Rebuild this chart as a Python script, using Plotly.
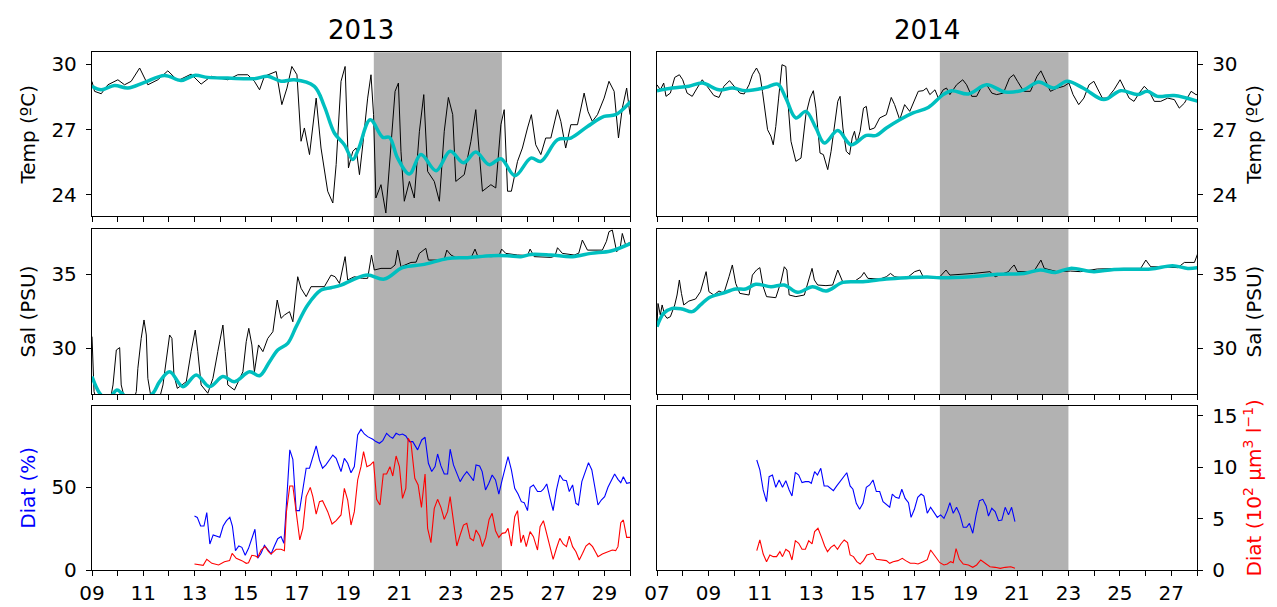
import plotly.graph_objects as go

# ---------------- DATA (day of month, value) ----------------
temp13_raw = [
    (9.00, 29.2), (9.10, 28.75), (9.36, 28.64), (9.62, 29.05), (10.01, 29.28), (10.27, 29.05),
    (10.53, 29.21), (10.86, 29.82), (11.18, 29.05), (11.57, 29.28), (11.96, 29.69), (12.35, 29.24),
    (12.87, 29.54), (13.26, 29.08), (13.65, 29.44), (14.30, 29.28), (14.69, 29.51), (15.08, 29.51),
    (15.34, 29.21), (15.54, 28.82), (15.73, 29.44), (16.19, 29.66), (16.41, 28.14), (16.61, 28.90),
    (16.80, 29.89), (17.00, 29.51), (17.16, 26.46), (17.29, 27.07), (17.49, 25.85), (17.75, 28.44),
    (17.94, 26.15), (18.20, 24.17), (18.40, 23.63), (18.53, 25.39), (18.72, 29.21), (18.88, 29.89),
    (19.01, 25.24), (19.18, 26.0), (19.31, 26.15), (19.44, 24.93), (19.57, 26.30), (19.76, 28.44),
    (19.89, 29.51), (19.99, 27.68), (20.08, 23.86), (20.28, 24.47), (20.47, 23.17), (20.67, 26.15),
    (20.83, 28.75), (20.96, 29.13), (21.06, 26.0), (21.19, 23.71), (21.39, 24.62), (21.58, 23.86),
    (21.78, 26.92), (21.95, 28.60), (22.10, 25.08), (22.36, 24.62), (22.56, 23.71), (22.75, 26.92),
    (22.91, 28.47), (23.08, 27.68), (23.20, 24.62), (23.53, 24.93), (23.79, 26.46), (23.98, 27.91),
    (24.11, 26.15), (24.24, 24.17), (24.57, 24.47), (24.76, 24.32), (24.96, 27.22), (25.09, 27.91),
    (25.22, 24.17), (25.37, 24.17), (25.61, 25.54), (25.80, 26.15), (26.00, 27.07), (26.15, 27.68),
    (26.32, 26.30), (26.52, 25.85), (26.71, 26.61), (26.91, 26.61), (27.17, 27.91), (27.30, 27.37),
    (27.49, 26.15), (27.69, 27.22), (27.95, 27.22), (28.21, 28.67), (28.36, 27.83), (28.53, 27.37),
    (28.73, 27.68), (28.99, 28.44), (29.18, 29.21), (29.38, 28.75), (29.55, 26.61), (29.70, 27.98),
    (29.87, 28.90), (30.00, 27.68),
]
temp13_smooth = [
    (9.00, 28.98), (9.36, 28.82), (9.88, 29.02), (10.40, 28.90), (11.05, 29.16), (11.83, 29.48),
    (12.48, 29.25), (13.00, 29.48), (13.52, 29.39), (14.30, 29.36), (15.34, 29.33), (15.86, 29.44),
    (16.38, 29.21), (16.90, 29.28), (17.68, 28.98), (18.07, 28.06), (18.46, 26.84), (18.85, 26.30),
    (19.18, 25.62), (19.40, 26.1), (19.86, 27.45), (20.35, 26.64), (20.61, 26.64), (20.93, 25.69),
    (21.39, 24.96), (21.84, 25.85), (22.43, 25.11), (22.98, 26.0), (23.50, 25.47), (23.98, 25.97),
    (24.50, 25.39), (24.96, 25.66), (25.51, 24.88), (26.13, 25.69), (26.52, 25.54), (27.17, 26.53),
    (27.69, 26.61), (28.34, 27.14), (28.99, 27.60), (29.44, 27.68), (30.03, 28.29),
]
temp14_raw = [
    (7.00, 29.05), (7.13, 28.82), (7.26, 29.13), (7.35, 28.52), (7.52, 28.67), (7.69, 29.39),
    (7.87, 29.51), (8.00, 29.28), (8.17, 28.67), (8.37, 28.52), (8.56, 28.90), (8.76, 29.28),
    (8.95, 28.98), (9.21, 28.56), (9.41, 28.47), (9.60, 28.98), (9.82, 29.24), (9.99, 28.98),
    (10.22, 28.67), (10.39, 28.63), (10.58, 29.05), (10.71, 29.51), (10.87, 29.82), (11.00, 29.51),
    (11.10, 28.75), (11.30, 26.99), (11.43, 26.69), (11.52, 26.30), (11.62, 27.14), (11.73, 28.44),
    (11.86, 29.97), (12.01, 29.89), (12.08, 28.44), (12.21, 26.46), (12.40, 25.54), (12.60, 25.69),
    (12.79, 27.68), (12.95, 28.44), (13.08, 28.78), (13.18, 27.98), (13.34, 25.92), (13.47, 25.85),
    (13.57, 25.47), (13.64, 25.16), (13.77, 26.0), (13.90, 27.22), (14.03, 28.29), (14.12, 28.52),
    (14.23, 27.07), (14.36, 26.0), (14.49, 25.85), (14.59, 26.61), (14.68, 26.92), (14.77, 26.38),
    (14.90, 26.92), (15.03, 27.98), (15.14, 28.06), (15.27, 26.99), (15.46, 27.07), (15.66, 27.53),
    (15.79, 27.60), (15.92, 27.68), (16.11, 28.47), (16.24, 28.14), (16.44, 27.45), (16.63, 28.14),
    (16.83, 27.83), (17.02, 28.37), (17.16, 28.75), (17.35, 28.78), (17.48, 28.90), (17.61, 28.60),
    (17.81, 28.82), (17.94, 28.44), (18.13, 28.82), (18.26, 28.90), (18.39, 28.60), (18.65, 29.05),
    (18.89, 29.28), (19.04, 29.05), (19.24, 28.52), (19.43, 28.52), (19.63, 28.98), (19.82, 29.05),
    (20.02, 28.67), (20.21, 28.60), (20.47, 28.67), (20.71, 29.36), (20.87, 29.51), (21.02, 29.21),
    (21.26, 28.75), (21.52, 28.75), (21.78, 29.44), (21.93, 29.69), (22.06, 29.36), (22.30, 28.75),
    (22.56, 28.90), (22.82, 28.98), (23.02, 29.13), (23.18, 28.60), (23.40, 28.14), (23.60, 28.44),
    (23.80, 29.05), (23.99, 29.21), (24.12, 28.90), (24.32, 28.44), (24.51, 28.44), (24.77, 28.82),
    (25.01, 29.28), (25.16, 28.90), (25.36, 28.44), (25.55, 28.29), (25.75, 28.67), (25.95, 28.98),
    (26.14, 28.75), (26.34, 28.29), (26.59, 28.29), (26.86, 28.44), (27.12, 28.37), (27.31, 27.98),
    (27.51, 28.21), (27.77, 28.75), (27.96, 28.60), (28.05, 28.60),
]
temp14_smooth = [
    (7.00, 28.78), (7.59, 28.90), (8.24, 28.98), (8.76, 29.13), (9.41, 28.82), (9.93, 28.90),
    (10.45, 28.78), (11.23, 28.93), (11.69, 29.08), (12.01, 28.44), (12.40, 27.53), (12.79, 27.83),
    (13.18, 27.07), (13.51, 26.38), (14.03, 26.95), (14.55, 26.30), (15.14, 26.73), (15.53, 26.73),
    (15.92, 27.07), (16.44, 27.45), (16.96, 27.76), (17.55, 28.01), (18.13, 28.60), (18.46, 28.78),
    (19.11, 28.63), (19.82, 29.05), (20.54, 28.72), (21.26, 28.82), (21.84, 29.18), (22.43, 28.90),
    (22.95, 29.21), (23.60, 28.88), (24.38, 28.37), (25.03, 28.78), (25.68, 28.60), (26.07, 28.75),
    (26.46, 28.52), (27.11, 28.56), (28.05, 28.29),
]
sal13_raw = [
    (9.00, 30.79), (9.08, 27.09), (9.20, 26.4), (9.70, 26.4), (9.82, 27.54), (9.95, 29.89),
    (10.08, 30.05), (10.14, 27.54), (10.27, 26.63), (10.60, 26.4), (10.73, 27.09), (10.79, 28.66),
    (10.92, 30.67), (11.03, 31.91), (11.12, 30.90), (11.18, 27.98), (11.31, 26.63), (11.60, 26.4),
    (11.77, 27.54), (11.90, 29.33), (12.03, 30.90), (12.12, 30.67), (12.20, 28.21), (12.33, 27.31),
    (12.68, 27.76), (12.87, 29.78), (13.03, 31.23), (13.13, 29.78), (13.26, 27.54), (13.52, 26.98),
    (13.72, 27.98), (13.91, 29.78), (14.11, 31.57), (14.20, 29.78), (14.30, 27.54), (14.56, 27.20),
    (14.89, 28.43), (15.02, 30.45), (15.12, 31.35), (15.24, 30.23), (15.34, 28.43), (15.50, 30.23),
    (15.67, 29.78), (15.86, 30.67), (16.06, 31.12), (16.23, 33.25), (16.38, 32.02), (16.51, 32.24),
    (16.71, 32.47), (16.84, 31.79), (17.03, 34.82), (17.16, 34.04), (17.36, 33.48), (17.55, 34.15),
    (17.81, 34.15), (18.07, 34.15), (18.33, 34.93), (18.49, 34.82), (18.66, 34.37), (18.88, 36.17),
    (18.98, 34.60), (19.24, 34.82), (19.56, 34.71), (19.76, 34.71), (19.91, 36.28), (20.02, 35.27),
    (20.28, 35.38), (20.67, 35.38), (20.83, 35.61), (20.93, 36.61), (21.06, 35.49), (21.45, 35.78),
    (21.65, 35.8), (21.78, 36.39), (22.03, 36.73), (22.13, 35.94), (22.49, 35.94), (22.75, 36.0),
    (22.85, 36.61), (23.01, 36.28), (23.27, 36.05), (23.80, 36.1), (23.95, 36.68), (24.05, 36.23),
    (24.57, 36.17), (24.88, 36.2), (24.99, 36.68), (25.15, 36.39), (25.61, 36.28), (26.00, 36.25),
    (26.10, 36.68), (26.26, 36.17), (26.91, 36.12), (27.07, 36.2), (27.17, 36.77), (27.36, 36.39),
    (27.82, 36.28), (28.00, 36.4), (28.14, 37.29), (28.34, 36.61), (28.92, 36.61), (29.08, 37.2),
    (29.18, 37.85), (29.31, 37.96), (29.48, 36.50), (29.62, 36.8), (29.70, 37.73), (29.83, 36.95),
    (30.03, 37.17),
]
sal13_smooth = [
    (9.00, 28.10), (9.30, 26.98), (9.60, 26.5), (9.97, 27.20), (10.16, 26.98), (10.40, 26.63),
    (10.92, 26.5), (11.38, 26.98), (11.64, 27.76), (12.03, 28.43), (12.55, 27.42), (13.07, 28.21),
    (13.59, 27.42), (14.11, 28.10), (14.56, 27.76), (15.15, 28.43), (15.54, 28.16), (15.93, 29.10),
    (16.25, 29.89), (16.64, 30.34), (16.97, 31.46), (17.42, 32.92), (17.94, 33.92), (18.33, 34.08),
    (18.72, 34.26), (19.24, 34.66), (19.76, 34.93), (20.41, 34.66), (21.12, 35.43), (21.97, 35.65),
    (22.88, 36.05), (23.66, 36.10), (24.57, 36.23), (25.22, 36.23), (25.74, 36.17), (26.13, 36.32),
    (26.91, 36.28), (27.76, 36.17), (28.47, 36.39), (29.25, 36.55), (30.03, 37.06),
]
sal14_raw = [
    (7.00, 31.57), (7.04, 33.02), (7.13, 32.24), (7.20, 32.92), (7.30, 32.24), (7.39, 32.02),
    (7.52, 32.13), (7.69, 32.92), (7.78, 33.59), (7.87, 34.60), (7.95, 33.70), (8.04, 32.92),
    (8.24, 33.18), (8.50, 33.32), (8.69, 33.81), (8.82, 34.71), (8.91, 35.16), (9.02, 33.81),
    (9.21, 33.59), (9.41, 33.86), (9.60, 33.70), (9.80, 34.82), (9.93, 35.61), (10.06, 34.37),
    (10.22, 33.70), (10.58, 33.59), (10.71, 34.93), (10.87, 35.27), (11.00, 35.43), (11.13, 34.15),
    (11.26, 33.48), (11.62, 33.41), (11.82, 34.48), (11.95, 35.49), (12.05, 35.27), (12.14, 33.59),
    (12.40, 33.48), (12.73, 33.59), (12.90, 34.71), (13.03, 35.38), (13.12, 34.60), (13.25, 34.26),
    (13.57, 34.22), (13.83, 34.26), (14.03, 35.27), (14.12, 34.93), (14.23, 34.44), (14.62, 34.44),
    (14.94, 34.82), (15.05, 35.11), (15.20, 34.71), (15.66, 34.66), (15.92, 34.82), (16.08, 35.04),
    (16.24, 34.82), (16.70, 34.71), (17.02, 35.16), (17.22, 35.27), (17.35, 34.82), (17.51, 34.82),
    (18.00, 34.82), (18.24, 35.27), (18.39, 34.93), (19.30, 35.04), (19.95, 35.16), (20.15, 34.82),
    (20.67, 35.16), (20.76, 35.38), (20.89, 35.61), (21.02, 35.16), (21.65, 35.16), (21.93, 35.94),
    (22.06, 35.38), (22.56, 35.16), (23.08, 35.20), (23.47, 35.16), (24.12, 35.34), (25.16, 35.38),
    (25.81, 35.38), (26.01, 35.94), (26.20, 35.49), (26.59, 35.49), (27.25, 35.43), (27.51, 35.78),
    (27.90, 35.78), (28.03, 36.39),
]
sal14_smooth = [
    (7.00, 31.46), (7.26, 32.36), (7.59, 32.69), (7.98, 32.65), (8.37, 32.47), (8.69, 32.92),
    (9.02, 33.41), (9.54, 33.70), (10.06, 33.99), (10.45, 33.99), (10.84, 34.31), (11.43, 34.15),
    (11.95, 34.26), (12.47, 33.77), (13.05, 34.15), (13.58, 33.86), (14.23, 34.44), (15.01, 34.48),
    (15.92, 34.66), (16.70, 34.75), (17.51, 34.80), (18.00, 34.75), (19.20, 34.82), (20.24, 34.98),
    (21.28, 35.04), (21.90, 35.27), (22.49, 35.11), (23.08, 35.38), (23.99, 35.16), (24.77, 35.31),
    (26.20, 35.34), (27.05, 35.56), (27.64, 35.38), (28.03, 35.43),
]
diat_pct13 = [
    (13.00, 32.6), (13.11, 31.8), (13.24, 26.6), (13.37, 26.6), (13.48, 34.7), (13.60, 15.7),
    (13.73, 21.2), (13.86, 20.6), (13.99, 19.8), (14.12, 26.6), (14.25, 29.8), (14.38, 31.8),
    (14.48, 26.6), (14.60, 11.7), (14.73, 14.5), (14.85, 13.7), (14.98, 8.9), (15.11, 13.1),
    (15.24, 19.8), (15.36, 24.6), (15.47, 7.1), (15.60, 10.1), (15.73, 14.9), (15.86, 12.5),
    (15.99, 9.7), (16.12, 14.5), (16.25, 18.9), (16.38, 20.2), (16.49, 16.1), (16.60, 42.3),
    (16.72, 72.6), (16.84, 66.9), (16.97, 35.9), (17.10, 35.9), (17.23, 49.4), (17.36, 61.5),
    (17.49, 61.5), (17.62, 68.9), (17.75, 75.0), (17.88, 66.5), (18.00, 61.5), (18.13, 63.5),
    (18.26, 66.5), (18.40, 69.5), (18.53, 67.5), (18.72, 59.5), (18.85, 67.5), (18.98, 64.5),
    (19.11, 58.8), (19.24, 62.5), (19.37, 81.6), (19.50, 85.0), (19.63, 82.2), (19.76, 80.6),
    (19.96, 79.0), (20.08, 77.6), (20.22, 76.6), (20.35, 78.2), (20.50, 82.6), (20.63, 80.6),
    (20.74, 79.6), (20.87, 82.6), (21.00, 81.6), (21.12, 82.2), (21.25, 81.0), (21.39, 77.6),
    (21.52, 77.6), (21.71, 72.6), (21.87, 78.6), (22.00, 80.2), (22.13, 64.5), (22.26, 59.5),
    (22.39, 62.5), (22.49, 70.1), (22.62, 62.9), (22.75, 58.0), (22.88, 58.0), (22.98, 73.0),
    (23.11, 63.5), (23.24, 58.0), (23.37, 53.4), (23.50, 56.8), (23.63, 59.5), (23.76, 56.8),
    (23.89, 54.0), (23.99, 63.5), (24.13, 62.9), (24.23, 59.5), (24.36, 48.4), (24.49, 52.4),
    (24.62, 57.4), (24.75, 54.4), (24.88, 45.9), (25.01, 54.4), (25.14, 63.5), (25.24, 68.5),
    (25.37, 60.5), (25.50, 49.4), (25.63, 45.9), (25.76, 41.3), (25.87, 40.7), (26.00, 35.9),
    (26.10, 50.0), (26.23, 51.4), (26.39, 47.4), (26.52, 47.4), (26.62, 48.8), (26.75, 52.0),
    (26.88, 43.3), (27.00, 35.9), (27.13, 48.4), (27.26, 57.4), (27.39, 54.4), (27.52, 54.0),
    (27.63, 47.4), (27.76, 51.4), (27.89, 40.3), (27.99, 39.3), (28.12, 53.4), (28.25, 59.5),
    (28.38, 64.9), (28.51, 60.5), (28.64, 49.4), (28.75, 39.3), (28.88, 42.3), (29.01, 44.3),
    (29.14, 50.0), (29.27, 54.4), (29.40, 58.0), (29.53, 54.8), (29.64, 52.8), (29.74, 56.4),
    (29.87, 52.4), (30.00, 52.8),
]
diat_bio13 = [
    (13.00, 0.58), (13.15, 0.52), (13.34, 0.45), (13.48, 1.04), (13.68, 0.65), (13.94, 0.49),
    (14.17, 0.81), (14.37, 0.91), (14.47, 1.62), (14.63, 1.13), (14.85, 0.91), (15.02, 0.65),
    (15.11, 0.71), (15.24, 1.43), (15.38, 1.36), (15.47, 1.23), (15.60, 1.94), (15.76, 2.27),
    (15.89, 1.78), (15.99, 1.55), (16.19, 2.01), (16.38, 2.01), (16.51, 1.88), (16.59, 5.67),
    (16.72, 8.16), (16.84, 8.16), (16.97, 5.35), (17.11, 2.92), (17.23, 4.05), (17.36, 7.13),
    (17.52, 8.03), (17.62, 7.13), (17.75, 5.44), (17.88, 6.64), (18.00, 6.74), (18.20, 5.67),
    (18.37, 4.47), (18.53, 4.79), (18.72, 5.35), (18.85, 7.94), (18.98, 6.80), (19.11, 4.37),
    (19.24, 5.67), (19.37, 8.75), (19.50, 10.04), (19.60, 11.50), (19.73, 10.04), (19.86, 10.20),
    (19.99, 10.53), (20.11, 6.87), (20.24, 6.32), (20.37, 9.33), (20.50, 9.33), (20.63, 10.04),
    (20.74, 9.14), (20.87, 11.08), (21.00, 10.04), (21.12, 6.96), (21.25, 7.94), (21.34, 12.80),
    (21.45, 12.37), (21.60, 8.91), (21.73, 8.26), (21.86, 6.09), (22.00, 9.33), (22.10, 4.05),
    (22.23, 2.66), (22.36, 5.99), (22.49, 6.87), (22.62, 6.09), (22.75, 4.92), (22.88, 5.67),
    (22.98, 7.13), (23.14, 4.21), (23.24, 2.33), (23.37, 3.40), (23.50, 4.37), (23.63, 4.54),
    (23.76, 3.08), (23.89, 2.85), (23.99, 3.89), (24.13, 3.30), (24.24, 2.27), (24.37, 3.17),
    (24.50, 4.92), (24.62, 5.51), (24.75, 3.82), (24.88, 3.17), (25.01, 3.56), (25.14, 3.63),
    (25.24, 4.05), (25.37, 2.33), (25.50, 5.18), (25.61, 5.77), (25.74, 2.66), (25.84, 3.40),
    (25.95, 2.27), (26.10, 3.73), (26.23, 3.24), (26.39, 1.94), (26.49, 4.21), (26.62, 4.79),
    (26.75, 3.56), (26.88, 2.27), (27.00, 1.04), (27.13, 2.11), (27.26, 3.08), (27.39, 2.53),
    (27.52, 2.27), (27.63, 3.30), (27.76, 2.27), (27.89, 1.78), (28.02, 0.97), (28.15, 1.62),
    (28.28, 2.33), (28.41, 2.59), (28.54, 2.27), (28.67, 1.68), (28.75, 1.30), (28.92, 1.55),
    (29.05, 1.68), (29.18, 1.78), (29.31, 1.94), (29.44, 1.88), (29.53, 2.27), (29.64, 4.60),
    (29.74, 4.86), (29.87, 3.17), (30.00, 3.17),
]
diat_pct14 = [
    (10.88, 66.5), (11.00, 60.5), (11.13, 48.4), (11.26, 41.3), (11.36, 56.4), (11.49, 57.4),
    (11.62, 50.0), (11.75, 54.4), (11.88, 50.0), (12.01, 54.0), (12.14, 48.4), (12.25, 44.7),
    (12.38, 59.0), (12.51, 57.4), (12.64, 52.8), (12.77, 53.4), (12.90, 53.4), (13.00, 52.4),
    (13.13, 59.5), (13.24, 57.4), (13.37, 61.5), (13.50, 50.8), (13.64, 50.8), (13.86, 48.0),
    (13.99, 50.8), (14.12, 53.4), (14.25, 56.4), (14.38, 58.8), (14.51, 50.8), (14.62, 48.8),
    (14.75, 40.3), (14.88, 36.7), (15.01, 40.3), (15.14, 50.0), (15.27, 51.4), (15.40, 54.4),
    (15.53, 47.4), (15.66, 47.4), (15.79, 41.3), (15.92, 39.3), (16.05, 37.9), (16.15, 45.9),
    (16.28, 43.9), (16.41, 43.3), (16.52, 48.8), (16.65, 43.3), (16.78, 40.7), (16.88, 31.8),
    (17.01, 36.7), (17.14, 43.9), (17.27, 45.9), (17.38, 44.7), (17.51, 34.3), (17.64, 37.9),
    (17.77, 34.7), (17.90, 31.8), (18.03, 33.3), (18.16, 31.2), (18.29, 35.9), (18.39, 40.7),
    (18.52, 34.3), (18.65, 37.9), (18.78, 33.3), (18.91, 25.8), (19.04, 25.8), (19.15, 28.2),
    (19.28, 22.2), (19.41, 33.3), (19.54, 41.9), (19.67, 42.7), (19.80, 38.7), (19.89, 32.6),
    (20.02, 37.3), (20.15, 35.3), (20.28, 29.8), (20.41, 30.2), (20.54, 37.9), (20.67, 33.3),
    (20.79, 37.9), (20.92, 29.2),
]
diat_bio14 = [
    (10.88, 1.88), (11.00, 2.92), (11.13, 1.55), (11.26, 0.81), (11.39, 1.46), (11.52, 1.30),
    (11.65, 1.30), (11.78, 1.78), (11.88, 1.30), (12.01, 2.01), (12.14, 1.78), (12.25, 0.97),
    (12.38, 2.85), (12.51, 2.59), (12.64, 2.01), (12.77, 2.01), (12.90, 2.85), (13.03, 2.53),
    (13.13, 3.73), (13.26, 4.05), (13.39, 3.24), (13.52, 2.33), (13.63, 1.78), (13.76, 2.20),
    (13.89, 2.43), (14.02, 2.01), (14.15, 2.53), (14.28, 2.92), (14.41, 2.66), (14.51, 1.46),
    (14.64, 1.30), (14.77, 0.81), (14.90, 0.58), (15.03, 0.91), (15.16, 1.46), (15.40, 1.62),
    (15.53, 1.04), (15.79, 0.97), (15.92, 0.91), (16.05, 0.65), (16.18, 0.81), (16.37, 0.91),
    (16.54, 1.13), (16.67, 0.91), (16.85, 0.65), (17.02, 0.65), (17.15, 0.58), (17.35, 0.81),
    (17.51, 1.00), (17.64, 1.94), (17.81, 1.36), (18.00, 0.71), (18.16, 0.49), (18.29, 0.58),
    (18.42, 0.81), (18.52, 0.71), (18.63, 2.07), (18.76, 1.04), (18.91, 0.58), (19.11, 0.49),
    (19.28, 0.26), (19.43, 0.49), (19.59, 0.97), (19.76, 0.65), (19.95, 0.32), (20.15, 0.26),
    (20.35, 0.16), (20.54, 0.26), (20.76, 0.32), (20.92, 0.16),
]

years = ["2013", "2014"]
x_ranges = [(9, 30), (7, 28)]
shade_spans = [(20, 25), (18, 23)]
temp_ticks = [24, 27, 30]
sal_ticks = [30, 35]
pct_ticks = [0, 50]
bio_ticks = [0, 5, 10, 15]

# ---------------- STYLE / LAYOUT ----------------
# The html body keeps an 8px default margin, so the figure is 8px smaller and
# all positions are measured from that offset.
FONT = "DejaVu Sans"
OFF = 8
W, H = 1277 - OFF, 607 - OFF
BLACK_W = 1.0
CYAN = "#00bfbf"
SHADE = "#b2b2b2"
TICK_FONT = 20
LABEL_FONT = 20


def xdom(a, b):
    return [(a - OFF) / W, (b - OFF) / W]


def ydom(top, bottom):
    return [1 - (bottom - OFF) / H, 1 - (top - OFF) / H]


DOM_L = xdom(92, 630)
DOM_R = xdom(657, 1197)
DOM_TOP = ydom(52.3, 216.3)
DOM_MID = ydom(229, 394)
DOM_BOT = ydom(405.7, 570)


def xy(pairs):
    return [p[0] for p in pairs], [p[1] for p in pairs]


fig = go.Figure()


def add_line(pairs, xa, ya, color, width, spline=False):
    x, y = xy(pairs)
    fig.add_trace(go.Scatter(
        x=x, y=y, xaxis=xa, yaxis=ya, mode="lines", hoverinfo="skip",
        line=dict(color=color, width=width, shape="spline" if spline else "linear"),
    ))


add_line(temp13_raw, "x", "y", "black", BLACK_W)
add_line(temp13_smooth, "x", "y", CYAN, 3.5, True)
add_line(temp14_raw, "x2", "y2", "black", BLACK_W)
add_line(temp14_smooth, "x2", "y2", CYAN, 3.5, True)
add_line(sal13_raw, "x3", "y3", "black", BLACK_W)
add_line(sal13_smooth, "x3", "y3", CYAN, 3.5, True)
add_line(sal14_raw, "x4", "y4", "black", BLACK_W)
add_line(sal14_smooth, "x4", "y4", CYAN, 3.5, True)
add_line(diat_pct13, "x5", "y5", "#0000ff", 1.1)
add_line(diat_bio13, "x5", "y7", "#ff0000", 1.1)
add_line(diat_pct14, "x6", "y6", "#0000ff", 1.1)
add_line(diat_bio14, "x6", "y8", "#ff0000", 1.1)


def xaxis(dom, anchor, rng, labels):
    lo, hi = rng
    major = [v for v in range(lo, hi + 1) if v % 2 == 1]
    minor = [v for v in range(lo, hi + 1) if v % 2 == 0]
    return dict(domain=dom, anchor=anchor, range=[lo, hi], tickvals=major,
                ticktext=["%02d" % v for v in major],
                showticklabels=labels, ticks="outside", ticklen=5, tickwidth=1.2,
                tickcolor="black", tickfont=dict(size=TICK_FONT),
                minor=dict(tickvals=minor, ticks="outside", ticklen=5, tickwidth=1.2,
                           tickcolor="black", showgrid=False),
                showline=True, linecolor="black", linewidth=1.3, automargin=False,
                mirror=True, showgrid=False, zeroline=False, fixedrange=True)


def yaxis(dom, anchor, rng, ticks, title, side="left", color="black", show=True):
    d = dict(domain=dom, anchor=anchor, range=rng, side=side, showline=True,
             linecolor="black", linewidth=1.3, mirror=True, showgrid=False,
             zeroline=False, fixedrange=True, automargin=False)
    if show:
        d.update(tickvals=ticks, ticks="outside", ticklen=5, tickwidth=1.2,
                 tickcolor="black", tickfont=dict(size=TICK_FONT), ticklabelstandoff=5,
                 title=dict(text=title, font=dict(color=color, size=LABEL_FONT), standoff=10))
    else:
        d.update(showticklabels=False, ticks="")
    return d


T_RNG = [23.02, 30.54]
S_RNG = [26.93, 38.03]
P_RNG = [0, 99.3]
B_RNG = [0, 15.97]
bio_title = "Diat (10<sup>2</sup> µm<sup>3</sup> l<sup>−1</sup>)"

fig.update_layout(
    width=W, height=H,
    margin=dict(l=0, r=0, t=0, b=0, autoexpand=False),
    paper_bgcolor="white", plot_bgcolor="white",
    font=dict(family=FONT, size=TICK_FONT, color="black"),
    showlegend=False,
    xaxis=xaxis(DOM_L, "y", x_ranges[0], False),
    xaxis2=xaxis(DOM_R, "y2", x_ranges[1], False),
    xaxis3=xaxis(DOM_L, "y3", x_ranges[0], False),
    xaxis4=xaxis(DOM_R, "y4", x_ranges[1], False),
    xaxis5=xaxis(DOM_L, "y5", x_ranges[0], True),
    xaxis6=xaxis(DOM_R, "y6", x_ranges[1], True),
    yaxis=yaxis(DOM_TOP, "x", T_RNG, temp_ticks, "Temp (ºC)"),
    yaxis2=yaxis(DOM_TOP, "x2", T_RNG, temp_ticks, "Temp (ºC)", side="right"),
    yaxis3=yaxis(DOM_MID, "x3", S_RNG, sal_ticks, "Sal (PSU)"),
    yaxis4=yaxis(DOM_MID, "x4", S_RNG, sal_ticks, "Sal (PSU)", side="right"),
    yaxis5=yaxis(DOM_BOT, "x5", P_RNG, pct_ticks, "Diat (%)", color="#0000ff"),
    yaxis6=yaxis(DOM_BOT, "x6", P_RNG, pct_ticks, "", show=False),
    yaxis7=dict(overlaying="y5", anchor="x5", range=B_RNG, visible=False, fixedrange=True),
    yaxis8=dict(overlaying="y6", anchor="x6", side="right", range=B_RNG, tickvals=bio_ticks,
                ticks="outside", ticklen=5, tickwidth=1.2, tickcolor="black",
                tickfont=dict(size=TICK_FONT), automargin=False, ticklabelstandoff=5,
                showline=True, linecolor="black", linewidth=1.3, showgrid=False,
                zeroline=False, fixedrange=True,
                title=dict(text=bio_title, font=dict(color="#ff0000", size=LABEL_FONT),
                           standoff=10)),
)

shapes = []
for col, (xa_list, ya_list) in enumerate([(["x", "x3", "x5"], ["y", "y3", "y5"]),
                                          (["x2", "x4", "x6"], ["y2", "y4", "y6"])]):
    s0, s1 = shade_spans[col]
    for xa, ya in zip(xa_list, ya_list):
        shapes.append(dict(type="rect", xref=xa, yref=ya + " domain", x0=s0, x1=s1,
                           y0=0, y1=1, fillcolor=SHADE, line=dict(width=0), layer="below"))
fig.update_layout(shapes=shapes)

for i, yr in enumerate(years):
    dom = DOM_L if i == 0 else DOM_R
    fig.add_annotation(text=yr, x=(dom[0] + dom[1]) / 2, y=1 - (30 - OFF) / H,
                       xref="paper", yref="paper",
                       showarrow=False, font=dict(size=26, family=FONT), xanchor="center",
                       yanchor="middle")

fig.write_html("out.html")
